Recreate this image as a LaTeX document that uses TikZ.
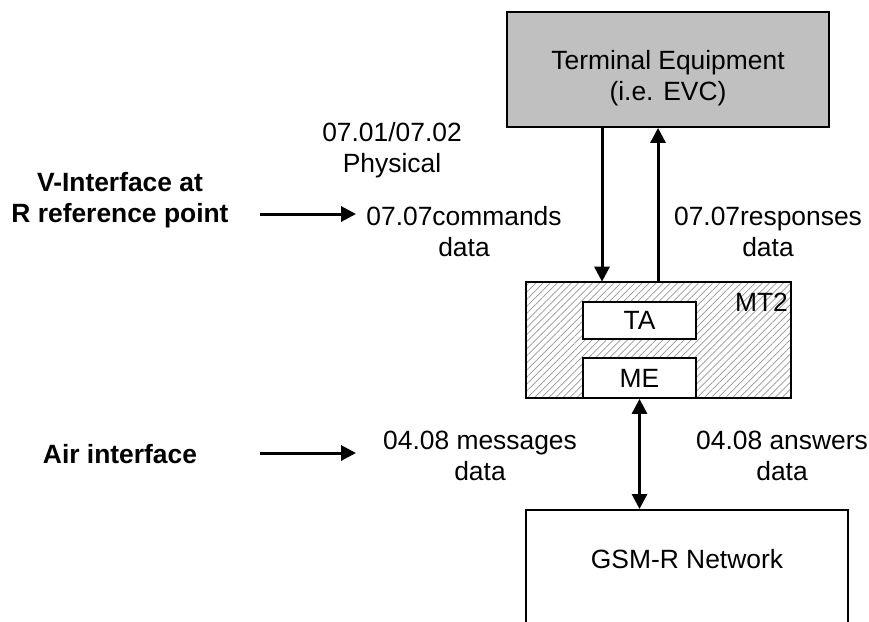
\documentclass[tikz,border=0pt]{standalone}
\usepackage{fontspec}
\setmainfont{Liberation Sans}
\usepackage{xcolor}
\usetikzlibrary{arrows.meta, patterns.meta, positioning}
\definecolor{tegray}{RGB}{192,192,192}
\definecolor{hatchgray}{RGB}{150,150,150}
\newcommand{\lblfont}{\fontsize{26.4}{31}\selectfont}

\begin{document}
\begin{tikzpicture}[x=1pt, y=-1pt, > = {Triangle[length=15pt, width=15pt]},
		box/.style = {draw, line width=1.8pt, inner sep=0pt, font=\lblfont},
		lbl/.style = {font=\lblfont, align=center, inner sep=0pt},
		conn/.style = {line width=3pt}]
			\useasboundingbox (0,0) rectangle (869,621);
			\clip (0,0) rectangle (869,621);
			
			% boxes
			\node [box, fill=tegray, minimum width=322pt, minimum height=115pt,
			label={[lbl, anchor=center, yshift=-9pt]center:Terminal Equipment\\(i.e. EVC)}] (te) at (668,69.5) {};
			\node [box, pattern={Lines[angle=45, distance=5pt, line width=0.7pt]}, pattern color=hatchgray,
			minimum width=265pt, minimum height=116pt] (mt) at (658.5,340) {};
			\node [box, fill=white, minimum width=113pt, minimum height=37pt] (ta) at (639.5,320.5) {TA};
			\node [box, fill=white, minimum width=113pt, minimum height=40pt] (me) at (639.5,378) {ME};
			\node [lbl, anchor=east] (mtlbl) at (788,302) {MT2};
			\node [box, minimum width=322pt, minimum height=150pt, anchor=north,
			label={[lbl, anchor=center, yshift=-50pt]north:GSM-R Network}] (gsm) at (687,509) {};
			
			% links
			\coordinate (dn) at (602,200);
			\coordinate (up) at (658,200);
			\draw [conn, ->] (te.south -| dn) -- (mt.north -| dn);
			\draw [conn, ->] (mt.north -| up) -- (te.south -| up);
			\draw [conn, <->] (me.south) -- (me.south |- gsm.north);
			
			% interfaces
			\node [lbl, font=\lblfont\bfseries] (vint) at (120,200) {V-Interface at\\R reference point};
			\node [lbl, font=\lblfont\bfseries] (air) at (120,454) {Air interface};
			\coordinate (va) at (260,214);
			\coordinate (vb) at (356,214);
			\coordinate (ia) at (260,453);
			\coordinate (ib) at (356,453);
			\draw [conn, ->] (va) -- (vb);
			\draw [conn, ->] (ia) -- (ib);
			
			\node [lbl] (phys) at (392,150) {07.01/07.02\\Physical};
			\node [lbl] (cmd) at (464,232) {07.07commands\\data};
			\node [lbl] (rsp) at (768,232) {07.07responses\\data};
			\node [lbl] (msg) at (480,456) {04.08 messages\\data};
			\node [lbl] (ans) at (782,456) {04.08 answers\\data};
		\end{tikzpicture}
\end{document}
